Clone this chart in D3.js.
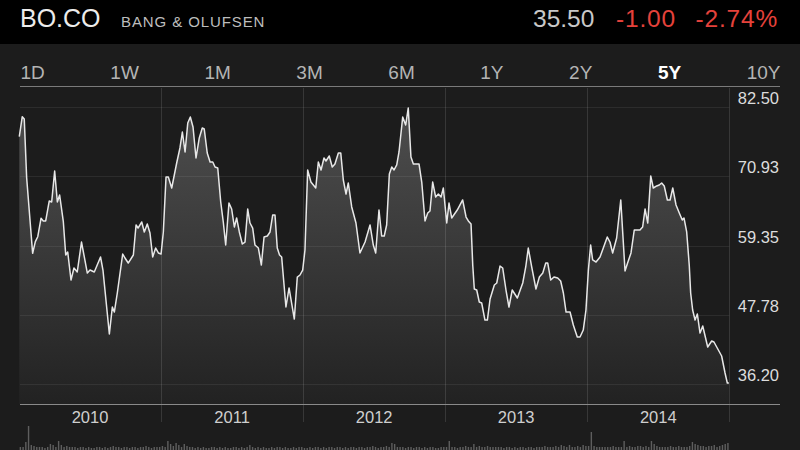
<!DOCTYPE html>
<html><head><meta charset="utf-8">
<script src="https://cdn.jsdelivr.net/npm/d3@7"></script>
<style>
html,body{margin:0;padding:0;background:#1c1c1c;overflow:hidden;}
svg{display:block;font-family:"Liberation Sans",Arial,Helvetica,sans-serif;}
</style></head><body>
<svg id="chart" width="800" height="450"></svg>
<script>
// ---------- data ----------
const symbol = "BO.CO";
const company = "BANG & OLUFSEN";
const lastPrice = "35.50";
const change = "-1.00";
const changePct = "-2.74%";
const tabs = ["1D","1W","1M","3M","6M","1Y","2Y","5Y","10Y"];
const activeTab = "5Y";
const yTicks = [36.20, 47.78, 59.35, 70.93, 82.50];
const years = [2010, 2011, 2012, 2013, 2014];
// time as decimal year
const priceT = [2010.002,2010.023,2010.037,2010.054,2010.096,2010.115,2010.132,2010.155,2010.171,2010.188,
2010.213,2010.230,2010.251,2010.270,2010.286,2010.312,2010.329,2010.343,2010.366,2010.387,
2010.410,2010.440,2010.481,2010.500,2010.530,2010.574,2010.591,2010.636,2010.657,2010.671,
2010.692,2010.730,2010.746,2010.769,2010.805,2010.824,2010.838,2010.864,2010.882,2010.903,
2010.922,2010.941,2010.962,2010.981,2011.000,2011.016,2011.035,2011.051,2011.075,2011.110,
2011.133,2011.150,2011.169,2011.188,2011.206,2011.225,2011.246,2011.269,2011.290,2011.304,
2011.325,2011.345,2011.364,2011.380,2011.399,2011.420,2011.438,2011.455,2011.478,2011.497,
2011.516,2011.532,2011.551,2011.572,2011.591,2011.610,2011.626,2011.645,2011.661,2011.685,
2011.706,2011.725,2011.748,2011.767,2011.786,2011.802,2011.818,2011.834,2011.849,2011.879,
2011.901,2011.938,2011.959,2011.978,2011.997,2012.013,2012.032,2012.055,2012.089,2012.107,
2012.126,2012.147,2012.161,2012.184,2012.205,2012.224,2012.248,2012.265,2012.283,2012.302,
2012.318,2012.342,2012.372,2012.400,2012.436,2012.471,2012.494,2012.511,2012.534,2012.553,
2012.571,2012.588,2012.607,2012.624,2012.640,2012.659,2012.675,2012.701,2012.722,2012.740,
2012.759,2012.776,2012.816,2012.835,2012.858,2012.877,2012.893,2012.912,2012.933,2012.952,
2012.971,2012.987,2013.011,2013.027,2013.046,2013.085,2013.123,2013.147,2013.163,2013.182,
2013.194,2013.205,2013.222,2013.240,2013.257,2013.280,2013.297,2013.316,2013.346,2013.363,
2013.386,2013.405,2013.428,2013.449,2013.472,2013.508,2013.546,2013.567,2013.585,2013.609,
2013.639,2013.663,2013.687,2013.708,2013.722,2013.743,2013.766,2013.792,2013.813,2013.832,
2013.851,2013.879,2013.902,2013.930,2013.949,2013.972,2013.991,2014.008,2014.024,2014.038,
2014.062,2014.090,2014.113,2014.141,2014.160,2014.179,2014.207,2014.236,2014.266,2014.284,
2014.308,2014.331,2014.371,2014.390,2014.407,2014.426,2014.447,2014.465,2014.489,2014.507,
2014.524,2014.542,2014.564,2014.583,2014.602,2014.625,2014.648,2014.669,2014.681,2014.700,
2014.718,2014.728,2014.742,2014.759,2014.775,2014.794,2014.813,2014.848,2014.876,2014.892,
2014.946,2014.970,2014.986,2014.997];
const priceV = [77.54,80.88,80.49,70.63,58.05,59.99,60.82,63.90,63.45,63.45,
66.79,66.62,71.80,66.62,67.79,63.33,57.76,58.26,53.58,55.59,
54.92,59.93,54.75,55.25,54.92,57.43,55.25,44.56,49.07,48.23,
51.41,57.93,57.26,56.42,57.76,62.78,62.27,63.28,61.61,62.94,
61.44,57.43,58.93,58.10,57.93,61.61,70.80,70.80,68.96,73.14,
75.65,78.32,74.98,79.83,80.83,79.16,73.98,77.32,78.99,78.82,
74.81,73.31,73.31,72.47,72.30,66.62,63.28,59.43,66.45,65.45,
62.44,63.95,61.61,59.60,59.93,65.45,63.11,62.27,59.43,58.93,
56.09,60.77,60.94,61.61,64.45,64.45,58.93,57.76,57.43,49.07,
52.25,47.06,54.08,54.42,55.25,58.60,71.97,69.96,68.96,73.31,
71.97,73.98,73.47,74.31,72.47,72.97,74.81,74.81,70.30,67.96,
69.80,65.79,63.11,58.10,59.93,62.78,59.43,58.10,65.28,60.94,
60.94,62.78,71.30,72.47,71.97,72.81,74.98,80.83,79.49,82.33,
74.14,72.97,72.97,69.96,63.45,64.78,65.12,69.96,67.46,67.96,
67.46,68.96,63.11,66.45,63.95,65.28,66.96,64.11,63.45,62.94,
56.09,52.08,51.91,49.91,49.74,46.89,46.89,50.41,52.75,53.08,
55.92,55.59,51.91,49.07,51.91,50.57,53.08,55.76,58.93,55.76,
52.08,54.08,54.75,56.42,56.42,53.58,54.08,53.92,53.42,51.41,
48.23,48.23,46.06,44.06,44.06,45.22,48.57,55.25,59.43,56.93,
56.59,57.43,58.93,60.77,59.93,58.10,60.60,66.96,55.09,56.42,
58.10,61.94,61.94,62.44,65.45,63.11,70.97,68.96,69.30,69.46,
69.80,69.30,66.96,66.96,68.96,66.12,64.78,63.61,63.95,61.61,
56.09,51.41,48.57,46.89,47.90,44.72,45.89,42.38,43.39,43.22,
40.88,38.04,36.37,36.37];
// weekly volume (relative units)
const volume = [3,3,8,24,5,4,3,3,3,2,3,6,5,3,9,5,3,4,3,3,
3,2,3,3,2,3,2,2,3,3,2,3,2,3,4,3,3,2,3,3,
2,3,3,2,3,3,4,3,2,3,3,3,4,3,9,6,4,7,5,3,
6,4,3,3,2,3,2,3,2,2,3,3,2,3,2,3,2,2,3,3,
2,3,2,3,5,3,2,3,2,3,2,2,3,2,3,3,2,3,2,2,
3,2,3,3,2,2,3,2,3,3,2,3,2,3,3,2,3,3,2,3,
2,3,3,2,3,3,2,3,3,4,3,2,3,3,4,3,7,6,3,3,
3,2,3,3,2,3,3,2,3,2,3,3,2,2,3,3,3,9,3,3,
2,3,3,4,3,3,6,3,4,3,3,4,3,3,3,3,3,2,3,3,
2,3,2,3,3,2,3,3,2,3,3,3,4,3,3,3,4,3,5,4,
3,5,3,3,4,3,5,4,4,18,4,3,3,3,3,3,3,4,3,3,
3,9,3,4,3,3,4,4,3,4,3,9,6,4,3,3,3,3,4,3,
3,4,3,3,3,4,8,6,5,4,4,3,4,4,5,3,4,5,6,7];

// ---------- drawing ----------
const svg = d3.select("#chart");
const W = 800, H = 450;
const left = 19, plotRight = 729.3, axisRight = 780;
const plotTop = 107, plotBottom = 384, baseY = 404;

const data = priceT.map((t,i)=>({t, v: priceV[i]}));
const x = d3.scaleLinear().domain([2010, 2015]).range([left, plotRight]);
const y = d3.scaleLinear().domain([yTicks[0], yTicks[yTicks.length-1]]).range([plotBottom, plotTop]);

// header
svg.append("rect").attr("x",0).attr("y",0).attr("width",W).attr("height",44).attr("fill","#000");
svg.append("text").attr("x",20).attr("y",27).attr("fill","#ececec").attr("font-size",25).text(symbol);
svg.append("text").attr("x",121).attr("y",27).attr("fill","#bdbdbd").attr("font-size",15)
  .attr("letter-spacing","0.9").text(company);
svg.append("text").attr("x",533).attr("y",27).attr("fill","#c8c8c8").attr("font-size",24.5).text(lastPrice);
svg.append("text").attr("x",616).attr("y",27).attr("fill","#e5423b").attr("font-size",24.5)
  .attr("letter-spacing","0.8").text(change);
svg.append("text").attr("x",778).attr("y",27).attr("text-anchor","end").attr("fill","#e5423b").attr("font-size",24.5)
  .attr("letter-spacing","0.8").text(changePct);

// tabs: space-between from 20 to 780
const tabG = svg.append("g");
const tabTexts = tabG.selectAll("text").data(tabs).join("text")
  .attr("y",79).attr("font-size",19)
  .attr("font-weight",d=>d===activeTab?"bold":"normal")
  .attr("fill",d=>d===activeTab?"#ffffff":"#b4b4b4")
  .text(d=>d);
const widths = tabTexts.nodes().map(n=>n.getComputedTextLength());
const gap = (760 - d3.sum(widths))/(tabs.length-1);
let cx = 20.5;
tabTexts.attr("x",(d,i)=>{const p=cx; cx+=widths[i]+gap; return p;});

svg.append("line").attr("x1",20).attr("x2",axisRight).attr("y1",86.5).attr("y2",86.5)
  .attr("stroke","#7a7a7a").attr("stroke-width",1);

// gradient
const defs = svg.append("defs");
const grad = defs.append("linearGradient").attr("id","ag").attr("gradientUnits","userSpaceOnUse")
  .attr("x1",0).attr("x2",0).attr("y1",plotTop).attr("y2",baseY);
grad.append("stop").attr("offset","0%").attr("stop-color","#4e4e4e");
grad.append("stop").attr("offset","55%").attr("stop-color","#363636");
grad.append("stop").attr("offset","100%").attr("stop-color","#222222");

// area + line
const area = d3.area().x(d=>x(d.t)).y0(baseY).y1(d=>y(d.v));
const line = d3.line().x(d=>x(d.t)).y(d=>y(d.v));
svg.append("path").datum(data).attr("d",area).attr("fill","url(#ag)");

// horizontal gridlines
svg.append("g").selectAll("line").data(yTicks).join("line")
  .attr("x1",20).attr("x2",plotRight).attr("y1",d=>Math.round(y(d))+0.5).attr("y2",d=>Math.round(y(d))+0.5)
  .attr("stroke","rgba(255,255,255,0.07)").attr("stroke-width",1);

// vertical year lines
const yearEdges = years.slice(1).concat([years[years.length-1]+1]);
svg.append("g").selectAll("line").data(yearEdges).join("line")
  .attr("x1",d=>Math.round(x(d))+0.5).attr("x2",d=>Math.round(x(d))+0.5).attr("y1",88).attr("y2",422)
  .attr("stroke","rgba(255,255,255,0.12)").attr("stroke-width",1);

svg.append("path").datum(data).attr("d",line).attr("fill","none")
  .attr("stroke","#e8e8e8").attr("stroke-width",1.5).attr("stroke-linejoin","round");

// bottom axis line
svg.append("line").attr("x1",20).attr("x2",axisRight).attr("y1",404.5).attr("y2",404.5)
  .attr("stroke","#8a8a8a").attr("stroke-width",1);

// y labels
svg.append("g").selectAll("text").data(yTicks).join("text")
  .attr("x",779).attr("y",d=>y(d)-3).attr("text-anchor","end")
  .attr("font-size",16.5).attr("fill","#dcdcdc")
  .text(d=>d.toFixed(2));

// year labels
svg.append("g").selectAll("text").data(years).join("text")
  .attr("x",d=>x(d+0.5)).attr("y",423).attr("text-anchor","middle")
  .attr("font-size",16.5).attr("fill","#cfcfcf").text(d=>String(d));

// volume bars
const vy = d3.scaleLinear().domain([0, d3.max(volume)]).range([0, 24]);
const step = 5/volume.length;
svg.append("g").selectAll("rect").data(volume).join("rect")
  .attr("x",(d,i)=>x(2010+(i+0.5)*step)-0.7).attr("width",1.4)
  .attr("y",d=>H-vy(d)).attr("height",d=>vy(d))
  .attr("fill","#5e5e5e");
</script>
</body></html>
